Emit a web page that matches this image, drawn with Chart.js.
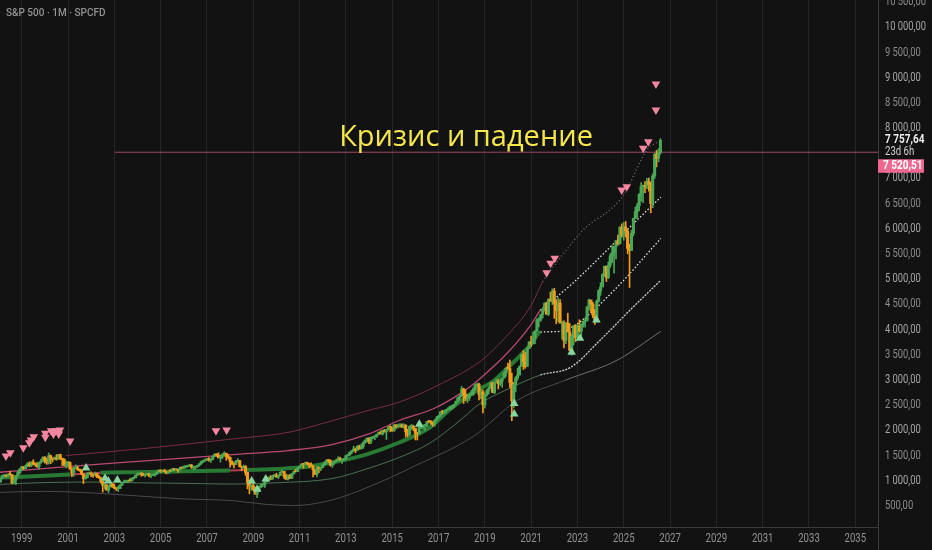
<!DOCTYPE html>
<html><head><meta charset="utf-8">
<script src="https://cdn.jsdelivr.net/npm/chart.js@4.4.1/dist/chart.umd.min.js"></script>
<style>html,body{margin:0;padding:0;background:#121212;overflow:hidden}canvas{display:block}</style>
</head><body>
<canvas id="c" width="932" height="550"></canvas>
<script>
// ---------- DATA ----------
const titleText = 'S&P 500 · 1M · SPCFD';
const noteText = 'Кризис и падение';
const noteAt = [2018.19, 7644];          // [year, price] of the note's baseline centre
const firstYear = 1998;
const firstOpen = 970;
const lastPrice = 7757.64;
const countdown = '23d 6h';
const refLine = 7520.51;
const refLineStart = 2003.03;

// monthly closes, one row per year (1998 … 2026)
const closes = [
 980,1049,1102,1112,1091,1134,1121,957,1017,1099,1164,1229,
 1280,1238,1286,1335,1302,1373,1329,1320,1283,1363,1389,1469,
 1394,1366,1499,1452,1421,1455,1431,1518,1437,1429,1315,1320,
 1366,1240,1160,1249,1256,1224,1211,1134,1041,1060,1139,1148,
 1130,1107,1147,1077,1067,990,912,916,815,886,936,880,
 856,841,848,917,964,975,990,1008,996,1051,1058,1112,
 1131,1145,1126,1107,1121,1141,1102,1104,1115,1130,1174,1212,
 1181,1204,1181,1157,1192,1191,1234,1220,1229,1207,1249,1248,
 1280,1281,1295,1311,1270,1270,1277,1304,1336,1378,1401,1418,
 1438,1407,1421,1482,1531,1503,1455,1474,1527,1549,1481,1468,
 1379,1331,1323,1386,1400,1280,1267,1283,1166,969,896,903,
 826,735,798,873,919,919,987,1021,1057,1036,1096,1115,
 1074,1104,1169,1187,1089,1031,1102,1049,1141,1183,1181,1258,
 1286,1327,1326,1364,1345,1321,1292,1219,1131,1253,1247,1258,
 1312,1366,1408,1398,1310,1362,1379,1407,1441,1412,1416,1426,
 1498,1515,1569,1598,1631,1606,1686,1633,1682,1757,1806,1848,
 1783,1859,1872,1884,1924,1960,1931,2003,1972,2018,2068,2059,
 1995,2105,2068,2086,2107,2063,2104,1972,1920,2079,2080,2044,
 1940,1932,2060,2065,2097,2099,2174,2171,2168,2126,2199,2239,
 2279,2364,2363,2384,2412,2423,2470,2472,2519,2575,2648,2674,
 2824,2714,2641,2648,2705,2718,2816,2902,2914,2712,2760,2507,
 2704,2784,2834,2946,2752,2942,2980,2926,2977,3038,3141,3231,
 3226,2954,2585,2912,3044,3100,3271,3500,3363,3270,3622,3756,
 3714,3811,3973,4181,4204,4298,4395,4523,4308,4605,4567,4766,
 4516,4374,4530,4132,4132,3785,4130,3955,3586,3872,4080,3840,
 4077,3970,4109,4169,4180,4450,4589,4508,4288,4194,4568,4770,
 4846,5096,5254,5036,5278,5460,5522,5648,5762,5705,6032,5882,
 6041,5955,5612,5569,5912,6205,6339,6460,6688,6840,6849,6845,
 6940,6880,6500,7050,7480,7400,7520.51,7757.64
];
const highs = [
 992,1050,1113,1123,1122,1139,1190,1121,1066,1105,1193,1244,
 1282,1281,1317,1363,1375,1373,1419,1354,1362,1373,1424,1474,
 1479,1445,1552,1512,1453,1474,1518,1525,1530,1440,1436,1389,
 1384,1377,1264,1269,1316,1287,1228,1220,1133,1110,1162,1173,
 1176,1130,1173,1147,1107,1070,994,965,925,901,951,954,
 935,864,895,924,965,1015,1016,1012,1040,1054,1064,1112,
 1155,1159,1163,1150,1127,1146,1141,1109,1131,1142,1188,1217,
 1217,1212,1229,1192,1199,1219,1245,1245,1243,1233,1270,1275,
 1295,1297,1310,1326,1326,1284,1280,1306,1340,1389,1407,1432,
 1441,1461,1438,1499,1534,1541,1556,1503,1538,1576,1520,1523,
 1471,1396,1359,1404,1440,1405,1292,1314,1303,1168,1007,919,
 944,877,833,888,930,957,996,1040,1081,1102,1113,1130,
 1151,1113,1181,1220,1188,1131,1120,1130,1150,1196,1228,1262,
 1302,1344,1332,1369,1371,1346,1357,1307,1230,1293,1277,1270,
 1333,1378,1420,1422,1416,1364,1392,1427,1475,1470,1434,1448,
 1504,1530,1570,1598,1687,1654,1698,1710,1730,1776,1813,1849,
 1851,1867,1884,1891,1925,1968,1991,2005,2019,2019,2075,2093,
 2064,2119,2114,2126,2135,2130,2133,2113,2021,2094,2117,2104,
 2038,1963,2073,2111,2104,2121,2178,2194,2188,2169,2214,2278,
 2301,2371,2401,2398,2419,2454,2484,2491,2519,2582,2658,2695,
 2873,2836,2801,2718,2743,2791,2848,2917,2941,2940,2815,2800,
 2708,2813,2860,2949,2954,2964,3028,3014,3022,3050,3154,3248,
 3338,3394,3136,2955,3068,3233,3280,3515,3588,3550,3646,3760,
 3870,3950,3983,4218,4238,4302,4429,4537,4546,4608,4744,4808,
 4819,4595,4637,4594,4170,4177,4140,4325,4119,3906,4080,4101,
 4095,4195,4111,4170,4232,4458,4608,4584,4542,4394,4588,4794,
 4932,5112,5264,5263,5342,5505,5670,5651,5768,5879,6044,6100,
 6129,6147,5986,5696,5969,6215,6428,6508,6699,6920,6870,6940,
 7002,7010,6930,7090,7500,7560,7590,7790
];
const lows = [
 912,970,1043,1077,1074,1075,1114,939,943,923,1098,1138,
 1204,1223,1240,1281,1278,1281,1318,1290,1264,1233,1347,1387,
 1350,1326,1331,1340,1374,1417,1410,1431,1420,1305,1294,1255,
 1275,1228,1081,1091,1245,1203,1187,1124,945,1031,1057,1120,
 1081,1074,1106,1064,1048,953,776,838,815,768,872,872,
 840,806,789,847,902,958,962,960,990,995,1031,1061,
 1105,1124,1088,1105,1077,1113,1078,1060,1103,1090,1127,1173,
 1164,1180,1174,1137,1147,1188,1183,1201,1206,1168,1201,1246,
 1245,1253,1268,1282,1245,1219,1224,1265,1290,1326,1360,1385,
 1403,1389,1364,1416,1481,1484,1454,1371,1439,1490,1407,1435,
 1271,1316,1257,1324,1373,1272,1201,1247,1107,840,741,815,
 805,735,666,783,866,888,870,979,992,1020,1030,1086,
 1072,1045,1106,1170,1041,1028,1011,1040,1049,1131,1173,1186,
 1258,1295,1249,1319,1311,1259,1283,1077,1120,1075,1159,1202,
 1258,1312,1341,1358,1291,1267,1325,1378,1396,1403,1343,1398,
 1426,1486,1501,1537,1581,1560,1605,1628,1633,1646,1746,1768,
 1738,1737,1834,1815,1863,1915,1931,1905,1964,1821,2001,1972,
 1981,1980,2040,2048,2067,2057,2044,1867,1872,1894,2019,1993,
 1812,1810,1937,2034,2026,1992,2075,2147,2120,2083,2084,2187,
 2245,2271,2322,2329,2353,2406,2407,2417,2447,2520,2557,2605,
 2683,2533,2585,2553,2594,2691,2698,2803,2865,2604,2631,2347,
 2444,2682,2722,2848,2751,2729,2952,2822,2892,2855,3051,3071,
 3214,2855,2192,2447,2766,2999,3101,3284,3209,3234,3280,3633,
 3662,3725,3723,3955,4056,4165,4233,4368,4306,4279,4560,4495,
 4223,4115,4157,4128,3811,3637,3722,3955,3585,3492,3699,3765,
 3795,3944,3809,4049,4048,4167,4385,4336,4238,4104,4190,4546,
 4682,4854,5057,4954,5012,5234,5326,5120,5403,5674,5697,5833,
 5773,5837,5505,4835,5578,5861,6201,6212,6360,6550,6521,6720,
 6800,6750,6320,6420,7000,7230,7330,7480
];

// indicator band lines (year, value)
const bandTopYears = [2000.9,2004.5,2008.1,2010.5,2012.4,2014,2015.3,2017,2018.8,2020,2021,2021.5,2022.3,2023.24,2024.93,2026.05,2026.45];
const bandTopValues = [1500,1650,1830,1960,2190,2400,2560,2900,3370,3900,4480,4950,5450,5974,6630,7600,7720];
const bandUpYears = [1998.06,2000.95,2004.5,2008.1,2010.5,2012.4,2014,2015.3,2016.8,2018,2018.8,2020,2021,2021.4,2022.1,2022.7,2024,2025.3,2026.6];
const bandUpValues = [1169,1282,1400,1521,1600,1720,1930,2197,2435,2750,3032,3550,4100,4384,4650,4880,5450,6050,6630];
const basisYears = [1998.06,1999.5,2001.1,2002.4,2004,2006,2008,2008.7,2010,2011,2012.4,2013.9,2015.3,2016.6,2017.5,2018.5,2019.4,2020.1,2020.95,2021.4,2022.1,2022.8,2023.5,2024.3,2025.2,2026,2026.6];
const basisValues = [1064,1090,1125,1160,1172,1188,1203,1212,1235,1262,1362,1525,1760,2050,2420,2750,2990,3290,3688,3950,3960,4060,4300,4650,5080,5500,5810];
const bandLowYears = [1998.06,2000,2002,2004,2006,2008.1,2010,2012.4,2014,2015.5,2016.6,2017.8,2018.8,2020,2021.4,2022.7,2024,2025.3,2026.6];
const bandLowValues = [930,965,975,960,950,935,960,1044,1250,1500,1740,2150,2535,2820,3100,3250,3800,4400,4980];
const bandBottomYears = [1998.06,2000,2002,2004,2006,2008.1,2009.6,2010.8,2012.4,2014,2016,2018.5,2020.4,2022.5,2024.7,2026.6];
const bandBottomValues = [770,790,760,700,640,606,530,510,620,880,1300,1880,2594,3000,3390,3966];

// signal markers
const sellYears = [1998.32,1998.51,1999.07,1999.33,1999.40,1999.52,2000.02,2000.02,2000.27,2000.37,2000.48,2000.60,2000.65,2001.09,2007.39,2007.85,2021.67,2021.84,2022.02,2024.91,2025.13,2025.84,2026.06,2026.39,2026.39];
const sellValues = [1492,1558,1657,1756,1810,1875,1943,1863,1994,1929,1994,1929,2008,1790,1994,2008,5130,5317,5416,6771,6837,7599,7730,8359,8875];
const buyYears = [2001.78,2002.60,2002.74,2003.13,2008.93,2009.17,2009.54,2016.17,2020.27,2020.27,2022.75,2023.11,2023.82];
const buyValues = [1253,1050,996,1016,996,832,1036,2121,2326,2533,3550,3828,4191];

// axes
const yearTicks = [1999,2001,2003,2005,2007,2009,2011,2013,2015,2017,2019,2021,2023,2025,2027,2029,2031,2033,2035];
const priceTicks = [500,1000,1500,2000,2500,3000,3500,4000,4500,5000,5500,6000,6500,7000,8000,8500,9000,9500,10000,10500];
const xRange = [1998.063, 2035.98];
const yRange = [83, 10542];

// ---------- BUILD ----------
const FONT = "Roboto, 'Noto Sans', sans-serif";
const SQ = 0.8;                 // horizontal squeeze of the narrow axis font
const UP = '#4aa856', DOWN = '#f39c1a';
const wickData = [], bodyData = [], candleUp = [];
for (let i = 0; i < closes.length; i++) {
  const t = firstYear + i / 12;
  const open = i === 0 ? firstOpen : closes[i - 1]; // monthly open = previous month's close
  wickData.push({x: t, y: [lows[i], highs[i]]});
  bodyData.push({x: t, y: [open, closes[i]]});
  candleUp.push(closes[i] >= open);
}
const pts = (xs, ys) => xs.map((x, i) => ({x, y: ys[i]}));
const after = (ctx, yr) => ctx.p0.parsed.x >= yr - 1e-6;

function fmt(v) {
  const s = Math.abs(v).toFixed(2).split('.');
  return s[0].replace(/\B(?=(\d{3})+(?!\d))/g, ' ') + ',' + s[1];
}
function sText(ctx, str, x, y, sx) {
  ctx.save(); ctx.translate(x, y); ctx.scale(sx, 1); ctx.fillText(str, 0, 0); ctx.restore();
}

const lineBase = {type: 'line', pointRadius: 0, fill: false, cubicInterpolationMode: 'monotone', order: 10};
const isRed = c => (after(c, 2001.1) && !after(c, 2002.4)) || (after(c, 2008) && !after(c, 2008.7));

const datasets = [
  Object.assign({}, lineBase, {
    data: pts(bandBottomYears, bandBottomValues), borderWidth: 1,
    segment: {borderColor: c => after(c, 2021) ? '#707070' : '#4a4a4a'}
  }),
  Object.assign({}, lineBase, {
    data: pts(bandLowYears, bandLowValues), borderWidth: 1,
    segment: {
      borderColor: c => after(c, 2021.4) ? '#d0d0d0' : 'rgba(80,120,90,0.9)',
      borderDash: c => after(c, 2021.4) ? [2, 1.2] : undefined,
      borderWidth: c => after(c, 2021.4) ? 1.3 : 1
    }
  }),
  Object.assign({}, lineBase, {
    data: pts(basisYears, basisValues), borderWidth: 4,
    segment: {
      borderColor: c => after(c, 2021.4) ? '#e6e6e6' : isRed(c) ? '#b83c52' : 'rgba(44,140,58,0.85)',
      borderDash: c => after(c, 2021.4) ? [1.5, 2] : undefined,
      borderWidth: c => after(c, 2021.4) ? 1.3 : isRed(c) ? 2 : 4
    }
  }),
  Object.assign({}, lineBase, {
    data: pts(bandUpYears, bandUpValues), borderWidth: 1.3,
    segment: {
      borderColor: c => after(c, 2021.4) ? '#e6e6e6' : '#b94a72',
      borderDash: c => after(c, 2021.4) ? [1.5, 2] : undefined
    }
  }),
  Object.assign({}, lineBase, {
    data: pts(bandTopYears, bandTopValues), borderWidth: 1,
    segment: {
      borderColor: c => after(c, 2021.5) ? 'rgba(150,125,135,0.85)' : 'rgba(125,45,68,0.95)',
      borderDash: c => after(c, 2021.5) ? [1, 2.5] : undefined,
      borderWidth: c => after(c, 2021.5) ? 1.3 : 1
    }
  }),
  {
    type: 'line', data: pts([refLineStart, xRange[1]], [refLine, refLine]),
    borderColor: 'rgba(190,86,122,0.8)', borderWidth: 1, pointRadius: 0, order: 6
  },
  {
    type: 'bar', data: wickData, grouped: false, barThickness: 1, order: 5,
    backgroundColor: c => candleUp[c.dataIndex] ? UP : DOWN
  },
  {
    type: 'bar', data: bodyData, grouped: false, barThickness: 2.4, minBarLength: 1, order: 4,
    backgroundColor: c => candleUp[c.dataIndex] ? UP : DOWN
  },
  {
    type: 'scatter', data: pts(sellYears, sellValues), pointStyle: 'triangle', rotation: 180,
    pointRadius: 5, backgroundColor: '#f5869f', borderWidth: 0, order: 1
  },
  {
    type: 'scatter', data: pts(buyYears, buyValues), pointStyle: 'triangle',
    pointRadius: 5, backgroundColor: '#86d6a0', borderWidth: 0, order: 1
  }
];

const overlay = {
  id: 'overlay',
  beforeDraw(chart) {
    const ctx = chart.ctx;
    ctx.save(); ctx.fillStyle = '#121212'; ctx.fillRect(0, 0, chart.width, chart.height); ctx.restore();
  },
  afterDraw(chart) {
    const {ctx, chartArea: a} = chart;
    const x = chart.scales.x, y = chart.scales.y;
    ctx.save();
    ctx.strokeStyle = '#3a3a3a'; ctx.lineWidth = 1;
    ctx.beginPath(); ctx.moveTo(a.right + 0.5, a.bottom); ctx.lineTo(a.right + 0.5, chart.height); ctx.stroke();
    // axis labels (narrow face)
    ctx.font = '12px ' + FONT; ctx.textBaseline = 'middle';
    ctx.textAlign = 'center'; ctx.fillStyle = '#929292';
    x.ticks.forEach(t => sText(ctx, String(t.value), x.getPixelForValue(t.value), a.bottom + 11.5, SQ));
    ctx.textAlign = 'left';
    y.ticks.forEach(t => {
      ctx.fillStyle = (t.value % 1000 === 0) ? '#a6a6a6' : '#8c8c8c';
      sText(ctx, fmt(t.value), a.right + 7, y.getPixelForValue(t.value), 0.78);
    });
    // title
    ctx.font = '500 11.5px ' + FONT; ctx.fillStyle = '#939393';
    sText(ctx, titleText, 6, 13, 0.87);
    // note
    ctx.font = '29px "Open Sans", sans-serif'; ctx.fillStyle = '#f6e84c';
    ctx.textAlign = 'center'; ctx.textBaseline = 'alphabetic';
    ctx.fillText(noteText, x.getPixelForValue(noteAt[0]), y.getPixelForValue(noteAt[1]));
    // last price + countdown
    const yl = y.getPixelForValue(lastPrice);
    ctx.textAlign = 'left'; ctx.textBaseline = 'middle';
    ctx.font = 'bold 12.5px ' + FONT; ctx.fillStyle = '#ececec';
    sText(ctx, fmt(lastPrice), a.right + 7, yl, SQ);
    ctx.font = '12px ' + FONT; ctx.fillStyle = '#d0d0d0';
    sText(ctx, countdown, a.right + 7, yl + 11.5, SQ);
    // reference line label
    const yr = y.getPixelForValue(refLine) + 13.5;
    ctx.fillStyle = '#f0678f';
    ctx.fillRect(a.right, yr - 6.5, 46, 13.5);
    ctx.font = 'bold 12.5px ' + FONT; ctx.fillStyle = '#ffffff';
    sText(ctx, fmt(refLine), a.right + 5, yr + 0.5, SQ);
    ctx.restore();
  }
};

new Chart(document.getElementById('c'), {
  type: 'bar',
  data: {datasets},
  options: {
    responsive: false, animation: false, events: [],
    layout: {padding: 0, autoPadding: false},
    plugins: {legend: {display: false}, tooltip: {enabled: false}},
    scales: {
      x: {
        type: 'linear', min: xRange[0], max: xRange[1], offset: false,
        afterBuildTicks: s => { s.ticks = yearTicks.map(v => ({value: v})); },
        afterFit: s => { s.height = 23; s.paddingLeft = 0; s.paddingRight = 0; },
        ticks: {display: false, autoSkip: false},
        grid: {color: '#262626', lineWidth: 1, drawTicks: false, offset: false},
        border: {color: '#3a3a3a'}
      },
      y: {
        type: 'linear', position: 'right', min: yRange[0], max: yRange[1],
        afterBuildTicks: s => { s.ticks = priceTicks.map(v => ({value: v})); },
        afterFit: s => { s.width = 54; s.paddingTop = 0; s.paddingBottom = 0; },
        ticks: {display: false, autoSkip: false},
        grid: {display: false, drawTicks: false},
        border: {color: '#3a3a3a'}
      }
    }
  },
  plugins: [overlay]
});
</script>
</body></html>
